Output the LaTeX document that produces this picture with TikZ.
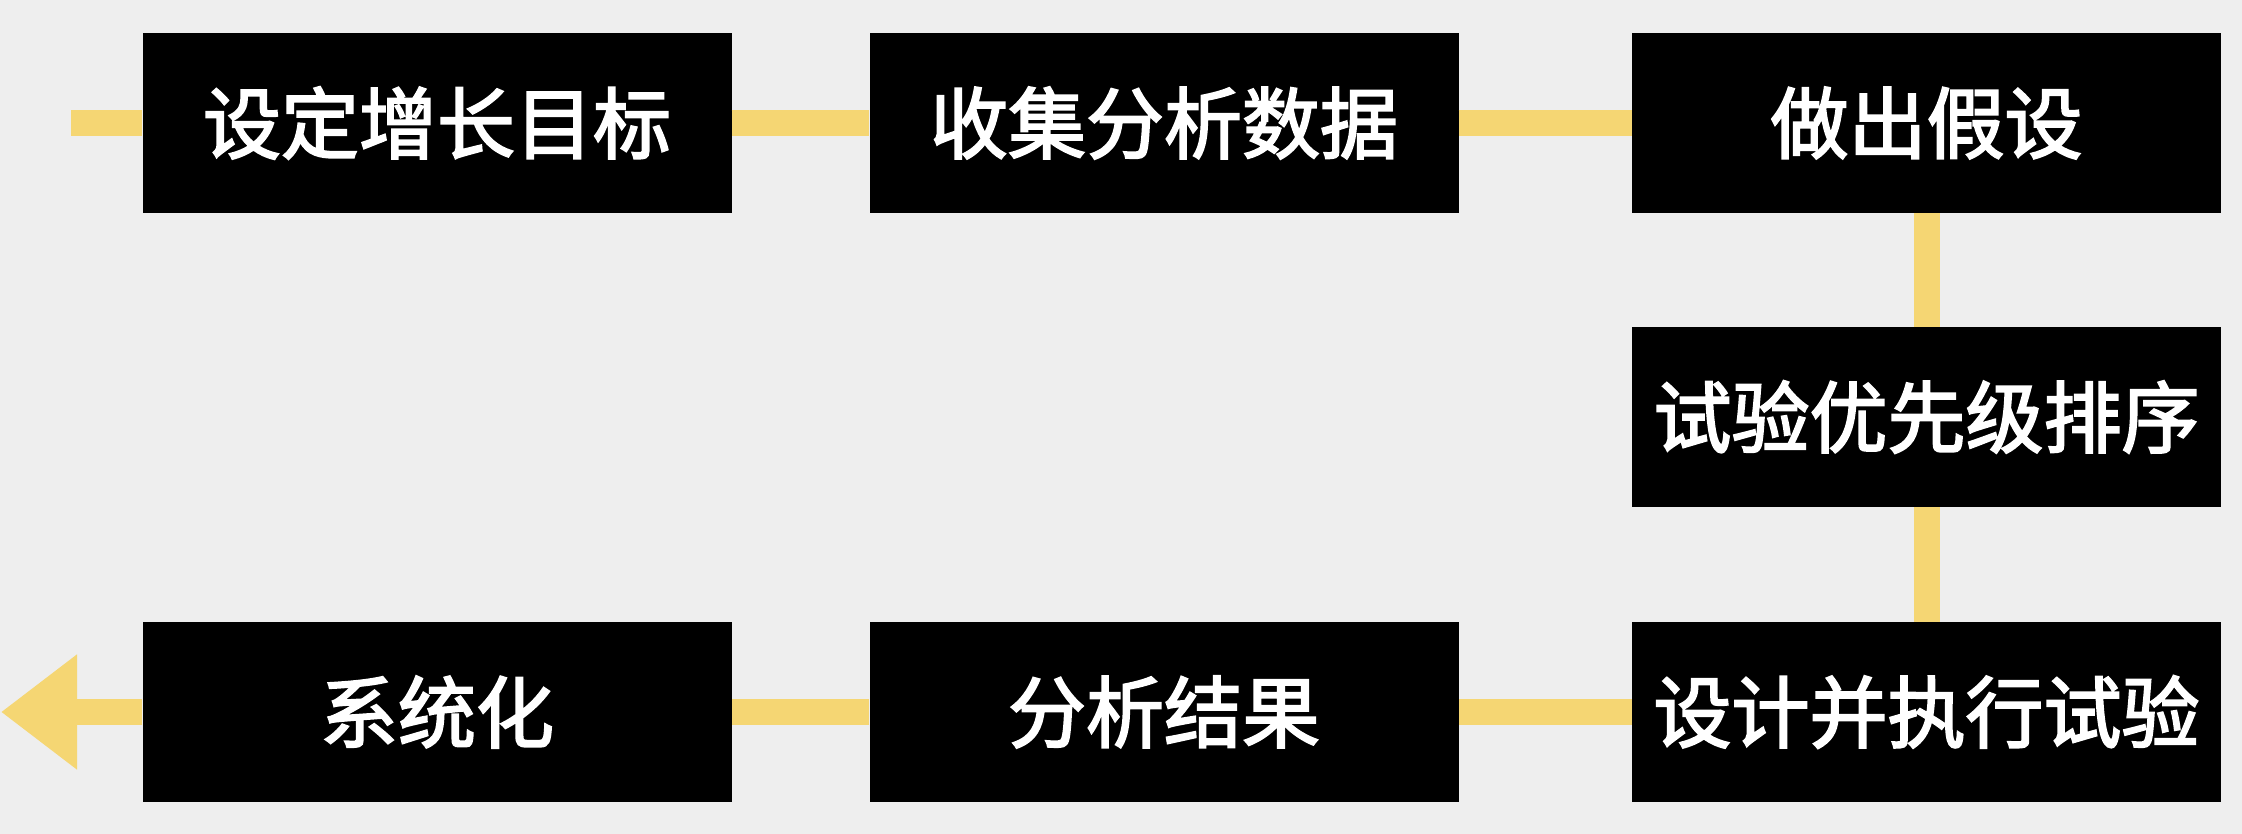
\documentclass[tikz,border=0pt]{standalone}
\usepackage{fontspec}
\newfontfamily\cjk{Noto Sans CJK SC}[FakeBold=2.5]
\usetikzlibrary{arrows.meta}
\definecolor{paper}{HTML}{EEEEEE}
\definecolor{trail}{HTML}{F5D673}
\begin{document}
\begin{tikzpicture}[x=1pt,y=1pt,
  stepbox/.style={fill=black, minimum width=589pt, minimum height=180pt,
    inner sep=0pt, text=white, font=\cjk\fontsize{78pt}{90pt}\selectfont},
  trail/.style={draw=trail, line width=26pt}]
  % canvas
  \useasboundingbox (0,0) rectangle (2242,834);
  \clip (0,0) rectangle (2242,834);
  \fill[paper] (0,0) rectangle (2242,834);
  % top row
  \node[stepbox] (goal)  at (437,711)    {设定增长目标};
  \node[stepbox] (data)  at (1164,711)   {收集分析数据};
  \node[stepbox] (hypo)  at (1926.5,711) {做出假设};
  % right column
  \node[stepbox] (prio)  at (1926.5,417) {试验优先级排序};
  \node[stepbox] (run)   at (1926.5,122) {设计并执行试验};
  % bottom row
  \node[stepbox] (res)   at (1164,122)   {分析结果};
  \node[stepbox] (sys)   at (437,122)    {系统化};
  % loose ends of the trail
  \coordinate (start) at (71,711);
  \coordinate (finish) at (1,122);
  % connectors
  \draw[trail] (start) -- (goal.west);
  \draw[trail] (goal.east) -- (data.west);
  \draw[trail] (data.east) -- (hypo.west);
  \draw[trail] (hypo.south) -- (prio.north);
  \draw[trail] (prio.south) -- (run.north);
  \draw[trail] (run.west) -- (res.east);
  \draw[trail] (res.west) -- (sys.east);
  \draw[trail, -{Triangle[length=76pt, width=110pt]}] (sys.west) -- (finish);
\end{tikzpicture}
\end{document}
